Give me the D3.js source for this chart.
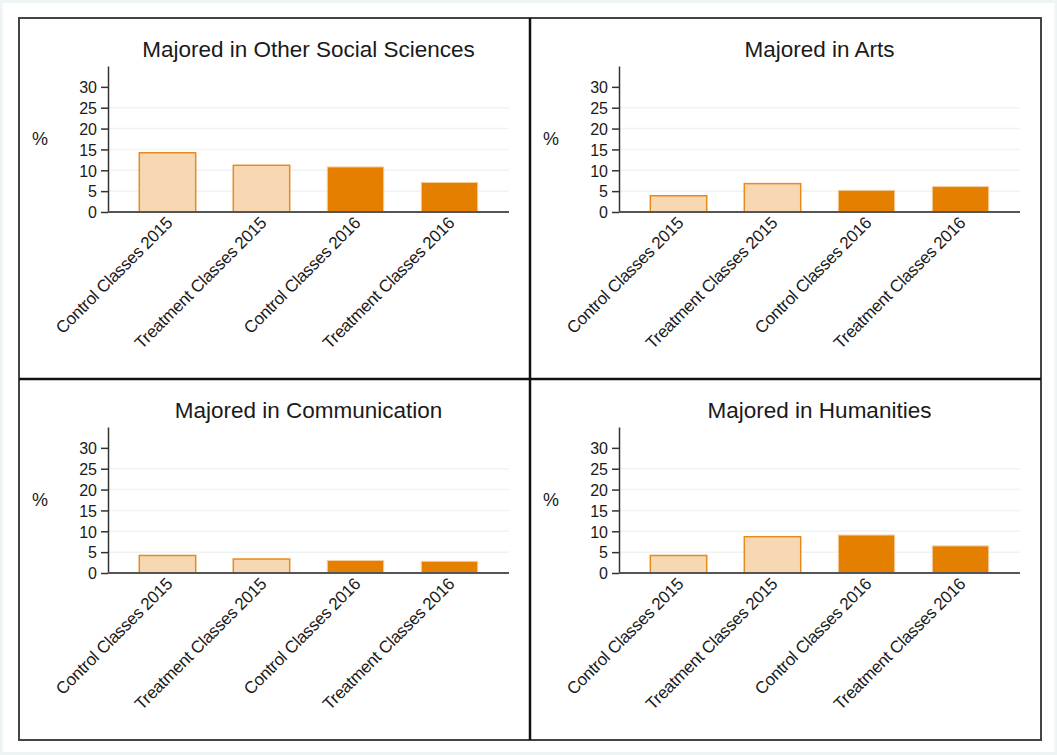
<!DOCTYPE html>
<meta charset="utf-8">
<style>
body { margin: 0; background: #fff; }
text { font-family: "Liberation Sans", Arial, sans-serif; fill: #1a1a1a; }
.grid line { stroke: #eef3f4; stroke-width: 1.5; }
.yaxis path, .yaxis line { stroke: #333; stroke-width: 1.5; }
.yaxis text { font-size: 16px; }
.xlabel { font-size: 17px; letter-spacing: -0.3px; }
.title { font-size: 22.5px; }
</style>
<body>
<script src="https://d3js.org/d3.v7.min.js"></script>
<script>
// chart values
const titles = ["Majored in Other Social Sciences", "Majored in Arts",
                "Majored in Communication", "Majored in Humanities"];
const groups = ["Control Classes 2015", "Treatment Classes 2015",
                "Control Classes 2016", "Treatment Classes 2016"];
const otherSocial   = [14.2, 11.2, 10.8, 7.1];
const arts          = [3.9, 6.8, 5.2, 6.1];
const communication = [4.2, 3.35, 3.0, 2.8];
const humanities    = [4.2, 8.7, 9.1, 6.5];
const yTicks = [0, 5, 10, 15, 20, 25, 30];
const gridTicks = [5, 10, 15, 20, 25];

const series = [otherSocial, arts, communication, humanities];

const W = 1057, H = 755,
      box = {x: 19, y: 18, w: 1022, h: 722},
      pw = 511, ph = 361,
      m = {left: 89, right: 490, top: 48, zero: 194};

var svg = d3.select("body").append("svg")
    .attr("width", W)
    .attr("height", H);

// faint outer frame
svg.append("rect")
    .attr("x", 1).attr("y", 1.5)
    .attr("width", W - 2).attr("height", H - 3)
    .attr("fill", "none")
    .attr("stroke", "#eef4f5")
    .attr("stroke-width", 3);

var x = d3.scaleBand()
    .domain(groups)
    .range([m.left, m.right])
    .paddingInner(0.4)
    .paddingOuter(0.333);

var y = d3.scaleLinear()
    .domain([0, 35])
    .range([m.zero, m.top]);

series.forEach(function(vals, i) {
  const g = svg.append("g")
      .attr("transform", "translate(" + (box.x + (i % 2) * pw) + "," + (box.y + Math.floor(i / 2) * ph) + ")");

  g.append("text")
      .attr("class", "title")
      .attr("x", (m.left + m.right) / 2)
      .attr("y", 39)
      .attr("text-anchor", "middle")
      .text(titles[i]);

  // grid
  g.append("g").attr("class", "grid")
    .selectAll("line")
    .data(gridTicks)
    .enter().append("line")
      .attr("x1", m.left).attr("x2", m.right)
      .attr("y1", d => y(d)).attr("y2", d => y(d));

  // bars
  g.selectAll(".bar")
      .data(vals)
    .enter().append("rect")
      .attr("class", "bar")
      .attr("x", (d, j) => x(groups[j]))
      .attr("width", x.bandwidth())
      .attr("y", d => y(d))
      .attr("height", d => y(0) - y(d))
      .attr("fill", (d, j) => j < 2 ? "#f7d8b3" : "#e47f00")
      .attr("stroke", (d, j) => j < 2 ? "#ea8a1a" : "#f6cfa0")
      .attr("stroke-width", (d, j) => j < 2 ? 1.5 : 1);

  // y axis
  const ya = g.append("g")
      .attr("class", "yaxis")
      .attr("transform", "translate(" + m.left + ",0)")
      .call(d3.axisLeft(y).tickValues(yTicks).tickSize(7).tickSizeOuter(0).tickPadding(4));
  ya.select(".domain").attr("stroke", "#333");
  ya.selectAll("text").attr("dy", "0.36em").attr("fill", "#1a1a1a");

  // x axis line
  g.append("line")
      .attr("x1", m.left).attr("x2", m.right)
      .attr("y1", y(0)).attr("y2", y(0))
      .attr("stroke", "#555")
      .attr("stroke-width", 2);

  // x labels
  g.selectAll(".xlabel")
      .data(groups)
    .enter().append("text")
      .attr("class", "xlabel")
      .attr("text-anchor", "end")
      .attr("transform", d => "translate(" + (x(d) + x.bandwidth() / 2 + 6) + "," + (y(0) + 12) + ") rotate(-45)")
      .text(d => d);

  g.append("text")
      .attr("x", 13)
      .attr("y", 127)
      .style("font-size", "18px")
      .text("%");
});

// panel box and dividers
svg.append("rect")
    .attr("x", box.x).attr("y", box.y)
    .attr("width", box.w).attr("height", box.h)
    .attr("fill", "none")
    .attr("stroke", "#444")
    .attr("stroke-width", 2);

svg.append("line")
    .attr("x1", box.x + pw).attr("x2", box.x + pw)
    .attr("y1", box.y).attr("y2", box.y + box.h)
    .attr("stroke", "#111").attr("stroke-width", 2.5);

svg.append("line")
    .attr("x1", box.x).attr("x2", box.x + box.w)
    .attr("y1", box.y + ph).attr("y2", box.y + ph)
    .attr("stroke", "#111").attr("stroke-width", 2.5);
</script>
</body>
